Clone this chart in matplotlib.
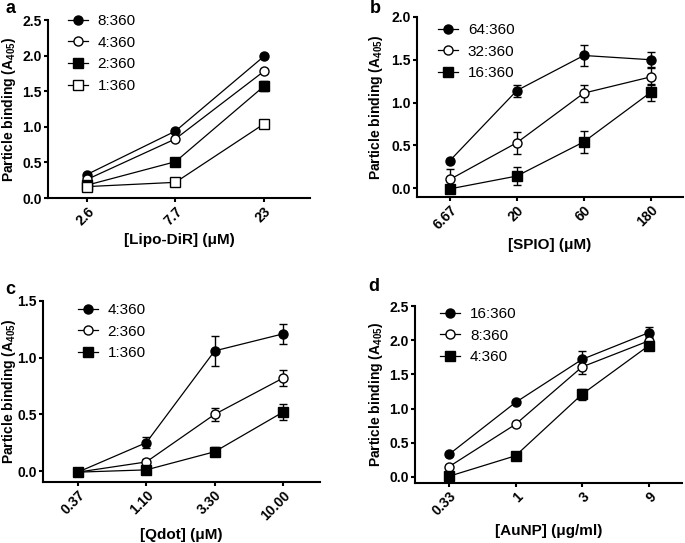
import matplotlib.pyplot as plt

plt.rcParams['font.family'] = ['Liberation Sans', 'DejaVu Sans']
plt.rcParams['mathtext.fontset'] = 'custom'
plt.rcParams['mathtext.rm'] = 'Liberation Sans:bold'
plt.rcParams['mathtext.bf'] = 'Liberation Sans:bold'

# panel a - Lipo-DiR
a_cats = ['2.6', '7.7', '23']
a_labels = ['8:360', '4:360', '2:360', '1:360']
a_vals = [[0.33, 0.94, 1.99], [0.26, 0.83, 1.78], [0.18, 0.51, 1.57], [0.16, 0.22, 1.04]]
a_err = [[0.02, 0.02, 0.03], [0.02, 0.02, 0.03], [0.01, 0.02, 0.07], [0.01, 0.02, 0.06]]

# panel b - SPIO
b_cats = ['6.67', '20', '60', '180']
b_labels = ['64:360', '32:360', '16:360']
b_vals = [[0.32, 1.14, 1.55, 1.50], [0.10, 0.53, 1.11, 1.30], [-0.01, 0.14, 0.54, 1.12]]
b_err = [[0.02, 0.07, 0.12, 0.09], [0.12, 0.13, 0.10, 0.10], [0.05, 0.10, 0.13, 0.10]]

# panel c - Qdot
c_cats = ['0.37', '1.10', '3.30', '10.00']
c_labels = ['4:360', '2:360', '1:360']
c_vals = [[-0.01, 0.25, 1.06, 1.21], [-0.01, 0.08, 0.50, 0.82], [-0.01, 0.01, 0.17, 0.52]]
c_err = [[0.02, 0.05, 0.13, 0.09], [0.02, 0.03, 0.06, 0.07], [0.02, 0.02, 0.04, 0.07]]

# panel d - AuNP
d_cats = ['0.33', '1', '3', '9']
d_labels = ['16:360', '8:360', '4:360']
d_vals = [[0.33, 1.09, 1.72, 2.11], [0.15, 0.77, 1.61, 1.99], [0.01, 0.31, 1.21, 1.92]]
d_err = [[0.02, 0.02, 0.12, 0.09], [0.02, 0.02, 0.11, 0.06], [0.02, 0.02, 0.08, 0.07]]

styles = [('o', 'black'), ('o', 'white'), ('s', 'black'), ('s', 'white')]

W, H = 685, 543
fig = plt.figure(figsize=(W / 100, H / 100), dpi=100)


def panel(rect, letter, cats, labels, vals, errs, ylim, yticks, xlim, xlabel, leg_anchor, ylab_px):
    l, r, t, b = rect
    ax = fig.add_axes([l / W, 1 - b / H, (r - l) / W, (b - t) / H])
    x = list(range(len(cats)))
    for i, (lab, v, e) in enumerate(zip(labels, vals, errs)):
        m, fc = styles[i]
        ax.errorbar(x, v, yerr=e, fmt='none', ecolor='black', elinewidth=1, capsize=3, capthick=1, zorder=2)
        ax.plot(x, v, color='black', lw=0.9, marker=m, ms=6.5, mfc=fc, mec='black', mew=1, label=lab, zorder=3)
    ax.set_xlim(*xlim)
    ax.set_ylim(*ylim)
    ax.set_yticks(yticks)
    ax.set_yticklabels([f'{t:.1f}' for t in yticks])
    ax.set_xticks(x)
    ax.set_xticklabels(cats, rotation=45, ha='right', rotation_mode='anchor')
    for s in ['top', 'right']:
        ax.spines[s].set_visible(False)
    for s in ['left', 'bottom']:
        ax.spines[s].set_linewidth(1.5)
    ax.tick_params(width=1.5, length=3, labelsize=10, pad=1.5)
    for lbl in ax.get_xticklabels() + ax.get_yticklabels():
        lbl.set_fontweight('bold')
    ax.set_ylabel('Particle binding (A$_{405}$)', fontsize=10, fontweight='bold')
    ax.yaxis.set_label_coords((ylab_px - l) / (r - l), 0.5)
    ax.set_xlabel(xlabel, fontsize=11, fontweight='bold', labelpad=4)
    ax.legend(loc='upper left', bbox_to_anchor=leg_anchor, frameon=False, fontsize=11,
              handlelength=1.3, handletextpad=0.65, labelspacing=0.5, borderaxespad=0, borderpad=0)
    fig.text(letter[1] / W, 1 - letter[2] / H, letter[0], fontsize=13, fontweight='bold', ha='left', va='top')
    return ax


panel((48, 310, 20, 198), ('a', 5, 0), a_cats, a_labels, a_vals, a_err,
      (0, 2.5), [0, 0.5, 1.0, 1.5, 2.0, 2.5], (-0.44, 2.52), '[Lipo-DiR] (μM)', (0.076, 1.034), 18)
panel((417, 683, 17, 197), ('b', 370, 0), b_cats, b_labels, b_vals, b_err,
      (-0.105, 2.0), [0, 0.5, 1.0, 1.5, 2.0], (-0.49, 3.48), '[SPIO] (μM)', (0.079, 0.967), 385)
panel((43, 320, 301, 482), ('c', 5, 281), c_cats, c_labels, c_vals, c_err,
      (-0.097, 1.5), [0, 0.5, 1.0, 1.5], (-0.51, 3.54), '[Qdot] (μM)', (0.126, 0.989), 18)
panel((415, 682, 306, 483), ('d', 368, 278), d_cats, d_labels, d_vals, d_err,
      (-0.088, 2.5), [0, 0.5, 1.0, 1.5, 2.0, 2.5], (-0.51, 3.5), '[AuNP] (μg/ml)', (0.094, 0.994), 385)

fig.savefig('out.png', dpi=100)
